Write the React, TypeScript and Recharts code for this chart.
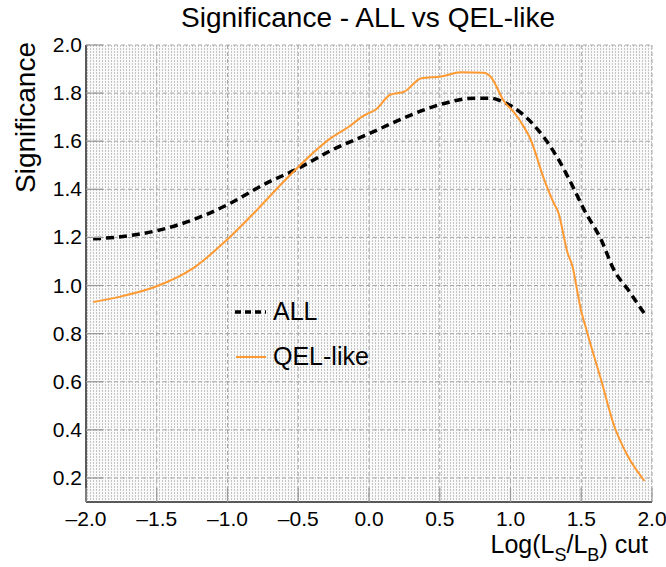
import React from "react";
import { LineChart, Line, XAxis, YAxis, CartesianGrid, Customized } from "recharts";

const allX = [-1.95, -1.8, -1.65, -1.5, -1.25, -1.0, -0.71, -0.52, -0.27, 0.0, 0.26, 0.5, 0.75, 0.86, 0.93, 1.0, 1.07, 1.24, 1.34, 1.44, 1.52, 1.64, 1.73, 1.83, 1.95];
const allV = [1.194, 1.2, 1.211, 1.228, 1.272, 1.336, 1.43, 1.481, 1.561, 1.631, 1.7, 1.752, 1.779, 1.779, 1.768, 1.748, 1.72, 1.613, 1.523, 1.412, 1.315, 1.191, 1.066, 0.983, 0.88];

const qelX = [-1.95, -1.75, -1.5, -1.25, -0.99, -0.78, -0.59, -0.27, -0.14, -0.04, 0.05, 0.15, 0.25, 0.37, 0.51, 0.65, 0.81, 0.86, 0.955, 1.025, 1.073, 1.143, 1.238, 1.3, 1.34, 1.403, 1.438, 1.474, 1.497, 1.533, 1.556, 1.639, 1.733, 1.828, 1.946];
const qelV = [0.931, 0.955, 0.997, 1.069, 1.198, 1.322, 1.44, 1.613, 1.661, 1.705, 1.733, 1.793, 1.806, 1.862, 1.869, 1.887, 1.885, 1.868, 1.765, 1.72, 1.68, 1.606, 1.44, 1.35, 1.3, 1.136, 1.08, 0.97, 0.9, 0.824, 0.776, 0.61, 0.416, 0.292, 0.188];

const xTicks = [-2, -1.5, -1, -0.5, 0, 0.5, 1, 1.5, 2];
const yTicks = [0.2, 0.4, 0.6, 0.8, 1.0, 1.2, 1.4, 1.6, 1.8, 2.0];

const titleText = "Significance - ALL vs QEL-like";
const yTitle = "Significance";
const legendNames = ["ALL", "QEL-like"];

const allData = allX.map((x, i) => ({ x, v: allV[i] }));
const qelData = qelX.map((x, i) => ({ x, v: qelV[i] }));

const FONT = "'Liberation Sans', Arial, Helvetica, sans-serif";
const TICK_COLOR = "#999";
const FRAME = "#5a5a5a";
const ORANGE = "#ff9a33";

const fmt = (v: number) => (v < 0 ? "\u2013" + Math.abs(v).toFixed(1) : v.toFixed(1));

const LeftTick = (p: any) => (
  <g>
    <text x={p.x} y={p.y + 7} textAnchor="end" fontSize={21} fontFamily={FONT} fill="#000">
      {fmt(p.payload.value)}
    </text>
    <line x1={p.x + 4} x2={p.x + 4 + 17} y1={p.y} y2={p.y} stroke={TICK_COLOR} strokeWidth={1.2} />
  </g>
);
const RightTick = (p: any) => (
  <line x1={p.x - 4} x2={p.x - 4 - 17} y1={p.y} y2={p.y} stroke={TICK_COLOR} strokeWidth={1.2} />
);
const BottomTick = (p: any) => (
  <g>
    <text x={p.x} y={p.y + 20} textAnchor="middle" fontSize={21} fontFamily={FONT} fill="#000">
      {fmt(p.payload.value)}
    </text>
    <line x1={p.x} x2={p.x} y1={p.y - 4} y2={p.y - 4 - 14} stroke={TICK_COLOR} strokeWidth={1.2} />
  </g>
);
const TopTick = (p: any) => (
  <line x1={p.x} x2={p.x} y1={p.y + 4} y2={p.y + 4 + 14} stroke={TICK_COLOR} strokeWidth={1.2} />
);

const Defs = () => (
  <defs>
    <pattern id="dots" width="3" height="3" patternUnits="userSpaceOnUse">
      <rect width="3" height="3" fill="#fafafa" />
      <rect x="0" y="0" width="1" height="2" fill="#c4c4c4" />
    </pattern>
  </defs>
);

const Texts = () => (
  <g fontFamily={FONT} fill="#000">
    <text x={368} y={27} textAnchor="middle" fontSize={28}>{titleText}</text>
    <text transform="translate(35,42) rotate(-90)" textAnchor="end" fontSize={28}>{yTitle}</text>
    <text x={648} y={553} textAnchor="end" fontSize={25}>
      Log(L<tspan fontSize={18} dy={8}>S</tspan>
      <tspan dy={-8}>/L</tspan>
      <tspan fontSize={18} dy={8}>B</tspan>
      <tspan dy={-8}>) cut</tspan>
    </text>
    <line x1={235} x2={266} y1={312} y2={312} stroke="#000" strokeWidth={3.5} strokeDasharray="6 4" />
    <text x={273} y={320} fontSize={25}>{legendNames[0]}</text>
    <line x1={236} x2={266} y1={357} y2={357} stroke={ORANGE} strokeWidth={2} />
    <text x={273} y={365} fontSize={25}>{legendNames[1]}</text>
  </g>
);

export default function App() {
  return (
    <div style={{ position: "absolute", left: 0, top: 0 }}>
      <LineChart width={666} height={567} margin={{ top: 45, right: 14, left: 26, bottom: 35 }}>
        <Customized component={Defs} />
        <CartesianGrid fill="url(#dots)" stroke="#a8a8a8" strokeDasharray="4 3" horizontalValues={yTicks} verticalValues={xTicks} />
        <XAxis xAxisId={0} dataKey="x" type="number" domain={[-2, 2]} ticks={xTicks} allowDataOverflow height={30}
          tickSize={0} tickMargin={4} tick={<BottomTick />} tickLine={false} axisLine={{ stroke: FRAME, strokeWidth: 2 }} />
        <XAxis xAxisId="top" orientation="top" dataKey="x" type="number" domain={[-2, 2]} ticks={xTicks} allowDataOverflow height={0}
          tickSize={0} tickMargin={4} tick={<TopTick />} tickLine={false} axisLine={{ stroke: FRAME, strokeWidth: 2 }} />
        <YAxis yAxisId={0} type="number" domain={[0.1, 2.0]} ticks={yTicks} allowDataOverflow width={60}
          tickSize={0} tickMargin={4} tick={<LeftTick />} tickLine={false} axisLine={{ stroke: FRAME, strokeWidth: 2 }} />
        <YAxis yAxisId="right" orientation="right" type="number" domain={[0.1, 2.0]} ticks={yTicks} allowDataOverflow width={0}
          tickSize={0} tickMargin={4} tick={<RightTick />} tickLine={false} axisLine={{ stroke: FRAME, strokeWidth: 2 }} />
        <Line data={allData} dataKey="v" type="monotone" stroke="#000" strokeWidth={3.5} strokeDasharray="8 5" dot={false} isAnimationActive={false} />
        <Line data={qelData} dataKey="v" type="monotone" stroke={ORANGE} strokeWidth={2} dot={false} isAnimationActive={false} />
        <Customized component={Texts} />
      </LineChart>
    </div>
  );
}
